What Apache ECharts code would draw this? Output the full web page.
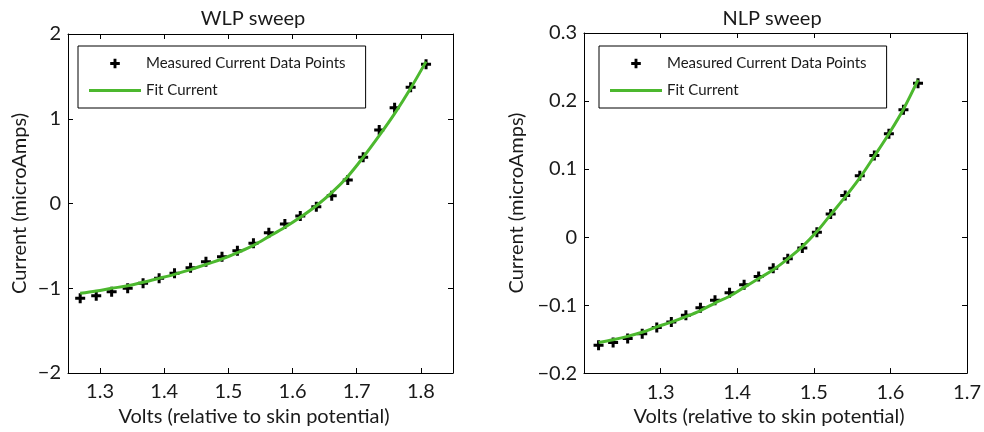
<!DOCTYPE html>
<html><head><meta charset="utf-8">
<script src="https://cdn.jsdelivr.net/npm/echarts@6/dist/echarts.min.js"></script>
<style>html,body{margin:0;padding:0;background:#fff}#c{width:984px;height:432px}</style>
</head><body><div id="c"></div>
<script>
// ---- data ----
const wlpVolts = [1.269,1.294,1.318,1.343,1.367,1.392,1.416,1.441,1.465,1.490,1.514,1.539,1.563,1.588,1.612,1.637,1.661,1.686,1.710,1.735,1.759,1.784,1.808];
const wlpMeasured = [-1.119,-1.088,-1.041,-1.001,-0.942,-0.883,-0.824,-0.758,-0.687,-0.628,-0.557,-0.470,-0.345,-0.242,-0.147,-0.038,0.092,0.277,0.545,0.867,1.130,1.371,1.643];
const wlpFit = [-1.060,-1.032,-1.001,-0.970,-0.930,-0.883,-0.836,-0.781,-0.718,-0.655,-0.580,-0.494,-0.391,-0.281,-0.163,-0.026,0.128,0.320,0.545,0.800,1.060,1.360,1.674];

const nlpVolts = [1.219,1.238,1.257,1.276,1.295,1.314,1.333,1.352,1.371,1.390,1.409,1.428,1.447,1.466,1.485,1.504,1.522,1.541,1.560,1.579,1.598,1.617,1.636];
const nlpMeasured = [-0.159,-0.155,-0.149,-0.142,-0.133,-0.125,-0.115,-0.104,-0.093,-0.082,-0.070,-0.058,-0.046,-0.032,-0.016,0.007,0.034,0.061,0.090,0.120,0.152,0.187,0.226];
const nlpFit = [-0.155,-0.151,-0.146,-0.140,-0.132,-0.125,-0.117,-0.108,-0.097,-0.087,-0.074,-0.061,-0.048,-0.032,-0.014,0.008,0.033,0.059,0.087,0.119,0.152,0.188,0.231];

const wlpXTicks = [1.3,1.4,1.5,1.6,1.7,1.8];
const wlpYTicks = [-2,-1,0,1,2];
const nlpXTicks = [1.3,1.4,1.5,1.6,1.7];
const nlpYTicks = [-0.2,-0.1,0,0.1,0.2,0.3];

const titles = ['WLP sweep','NLP sweep'];
const xName = 'Volts (relative to skin potential)';
const yName = 'Current (microAmps)';
const seriesNames = ['Measured Current Data Points','Fit Current'];

// ---- styling ----
const FONT = 'Lato';
const TXT = '#1a1a1a';
const GREEN = '#4cb82e';
const PLUS = 'path://M3.5,0H6.5V3.5H10V6.5H6.5V10H3.5V6.5H0V3.5H3.5Z';
const LINE_ICON = 'path://M0,0H52V3H0Z';

function fmt(v){
  const r = Math.round(v*1000)/1000;
  return (r < 0 ? '\u2212' : '') + String(Math.abs(r));
}
function zip(a,b){ return a.map((x,i)=>[x,b[i]]); }

function axesFor(g, xMin, xMax, xT, yMin, yMax, yT, yNameGap){
  const line = {show:true, onZero:false, lineStyle:{color:'#000', width:1}};
  const tick = (vals)=>({show:true, inside:true, length:5, lineStyle:{color:'#000'}, customValues:vals});
  const lab = (vals, m)=>({show:true, customValues:vals, formatter:fmt, color:TXT, fontFamily:FONT, fontSize:20, margin:m});
  return {
    x:[
      {type:'value', gridIndex:g, position:'bottom', min:xMin, max:xMax, axisLine:line, axisTick:tick(xT), axisLabel:lab(xT,9), splitLine:{show:false},
       name:xName, nameLocation:'middle', nameGap:33, nameTextStyle:{fontFamily:FONT, fontSize:20, color:TXT, padding:[0,13,0,0]}},
      {type:'value', gridIndex:g, position:'top', min:xMin, max:xMax, axisLine:line, axisTick:tick(xT), axisLabel:{show:false}, splitLine:{show:false}}
    ],
    y:[
      {type:'value', gridIndex:g, position:'left', min:yMin, max:yMax, axisLine:line, axisTick:tick(yT), axisLabel:lab(yT,7), splitLine:{show:false},
       name:yName, nameLocation:'middle', nameGap:yNameGap, nameTextStyle:{fontFamily:FONT, fontSize:20, color:TXT}},
      {type:'value', gridIndex:g, position:'right', min:yMin, max:yMax, axisLine:line, axisTick:tick(yT), axisLabel:{show:false}, splitLine:{show:false}}
    ]
  };
}

const A = axesFor(0, 1.25, 1.85, wlpXTicks, -2, 2, wlpYTicks, 38);
const B = axesFor(1, 1.2, 1.7, nlpXTicks, -0.2, 0.3, nlpYTicks, 57);

function dataSeries(xi, yi, xs, ys){
  return {name:seriesNames[0], type:'line', xAxisIndex:xi, yAxisIndex:yi, data:zip(xs,ys),
    symbol:PLUS, symbolSize:10, symbolKeepAspect:true, itemStyle:{color:'#000'},
    lineStyle:{width:0, color:'rgba(0,0,0,0)'}, z:3, silent:true, emphasis:{disabled:true}};
}
function fitSeries(xi, yi, xs, ys){
  return {name:seriesNames[1], type:'line', xAxisIndex:xi, yAxisIndex:yi, data:zip(xs,ys),
    symbol:'none', smooth:0.35, lineStyle:{width:3, color:GREEN}, itemStyle:{color:GREEN}, z:4, silent:true, emphasis:{disabled:true}};
}
function legendAt(left){
  return {left:left, top:46, orient:'vertical', selectedMode:false, symbolKeepAspect:true,
    data:[{name:seriesNames[0]}, {name:seriesNames[1], icon:LINE_ICON}],
    backgroundColor:'#fff', borderColor:'#000', borderWidth:1, borderRadius:0,
    padding:[10,20,10,11], itemWidth:52, itemHeight:12, itemGap:12,
    textStyle:{fontFamily:FONT, fontSize:15, color:TXT}};
}

const option = {
  animation:false,
  backgroundColor:'#fff',
  title:[
    {text:titles[0], left:248, top:4, textAlign:'center', textStyle:{fontFamily:FONT, fontSize:20, fontWeight:'normal', color:TXT}},
    {text:titles[1], left:767, top:4, textAlign:'center', textStyle:{fontFamily:FONT, fontSize:20, fontWeight:'normal', color:TXT}}
  ],
  grid:[
    {left:68, top:34, width:385, height:339},
    {left:584, top:33, width:389, height:342}
  ],
  xAxis:[...A.x, ...B.x],
  yAxis:[...A.y, ...B.y],
  legend:[legendAt(78), legendAt(599)],
  series:[
    fitSeries(0,0,wlpVolts,wlpFit), dataSeries(0,0,wlpVolts,wlpMeasured),
    fitSeries(2,2,nlpVolts,nlpFit), dataSeries(2,2,nlpVolts,nlpMeasured)
  ]
};
const chart = echarts.init(document.getElementById('c'), null, {renderer:'canvas'});
chart.setOption(option);
</script>
</body></html>
